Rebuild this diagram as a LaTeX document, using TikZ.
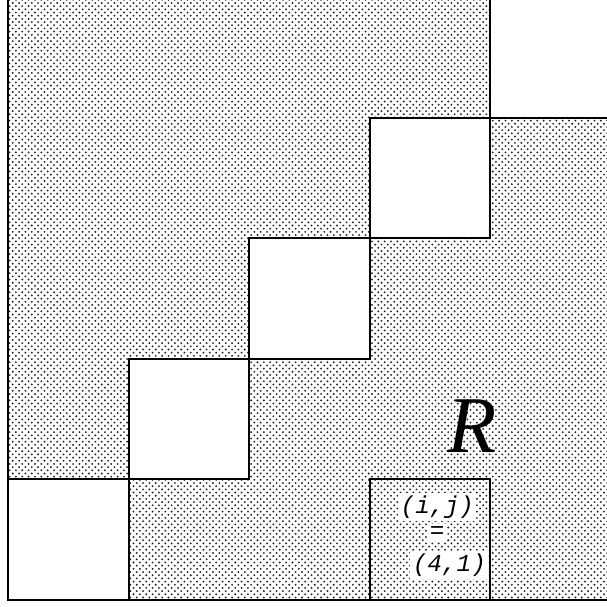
\documentclass[tikz,border=0pt]{standalone}
\usepackage{fontspec}
\setmainfont{Liberation Serif}
\setmonofont{Liberation Mono}
\usetikzlibrary{patterns}

\begin{document}
\begin{tikzpicture}[x=2cm, y=2cm, line width=1pt,
    dotted area/.style={pattern=crosshatch dots, pattern color=black!85},
    cell label/.style={fill=white, inner sep=1.2pt, font=\fontsize{11.5}{12}\ttfamily\itshape}]
    \useasboundingbox (-0.066,-0.058) rectangle (4.967,4.975);
    % shaded upper and lower parts
    \fill[dotted area] (0,0) rectangle (4.967,4.975);
    % white blocks on the diagonal
    \foreach \k in {0,1,2,3}
      \draw[fill=white] (\k,\k) rectangle (\k+1,\k+1);
    \fill[white] (4,4) rectangle (4.967,4.975);
    \draw (0,4.975) -- (0,0) -- (4.967,0);
    \draw (4,4.975) -- (4,4) -- (4.967,4);
    \draw (3,0) rectangle (4,1);
    \node[font=\fontsize{38}{38}\selectfont\itshape] (R) at (3.85,1.44) {R};
    \node[cell label] (ij) at (3.56,0.77) {(i,j)};
    \node[cell label] (eq) at (3.56,0.56) {=};
    \node[cell label] (val) at (3.66,0.29) {(4,1)};
  \end{tikzpicture}
\end{document}
